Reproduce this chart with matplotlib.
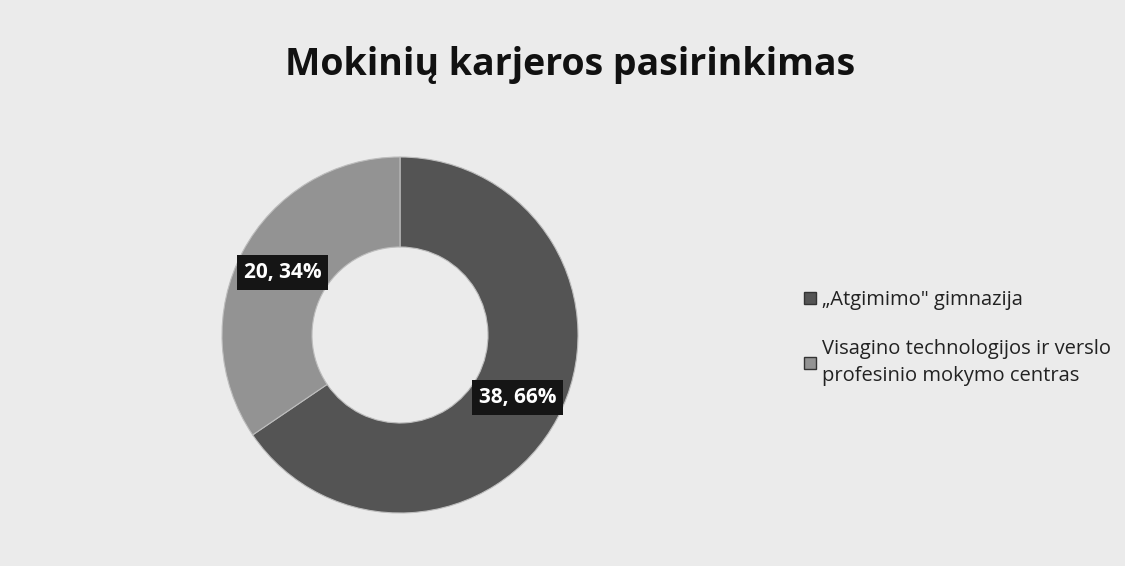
import matplotlib.pyplot as plt
from matplotlib.patches import Patch

plt.rcParams['font.family'] = ['Open Sans', 'DejaVu Sans']

# data
labels = ['„Atgimimo" gimnazija',
          'Visagino technologijos ir verslo\nprofesinio mokymo centras']
values = [38, 20]
colors = ['#545454', '#939393']
title = 'Mokinių karjeros pasirinkimas'

W, H = 1125, 566
fig = plt.figure(figsize=(W / 100, H / 100), dpi=100, facecolor='#ebebeb')
ax = fig.add_axes([0, 0, 1, 1])
ax.set_xlim(0, W)
ax.set_ylim(0, H)
ax.set_aspect('equal')
ax.axis('off')

total = sum(values)


def fmt(p):
    v = round(p * total / 100)
    return f'{v}, {p:.0f}%'


wedges, texts, autotexts = ax.pie(
    values, colors=colors, startangle=90, counterclock=False,
    center=(400, H - 335), radius=178, autopct=fmt, pctdistance=133 / 178,
    wedgeprops=dict(width=90, edgecolor='#bdbdbd', linewidth=0.8),
    textprops=dict(color='white', fontsize=15, fontweight='bold'))
for t in autotexts:
    t.set_bbox(dict(facecolor='#151515', edgecolor='none', pad=5))
ax.set_xlim(0, W)
ax.set_ylim(0, H)

fig.text(570 / W, 1 - 65 / H, title, ha='center', va='center',
         fontsize=27, fontweight='bold', color='#111111')

handles = [Patch(facecolor=c, edgecolor='#333333') for c in colors]
leg = fig.legend(handles, labels, loc='upper left', bbox_to_anchor=(786 / W, 1 - 272 / H),
                 frameon=False, fontsize=14.5, handlelength=0.6, handleheight=0.6,
                 handletextpad=0.3, labelspacing=1.45, labelcolor='#222222')
for t in leg.get_texts():
    t.set_linespacing(1.45)

fig.savefig('out.png', dpi=100, facecolor=fig.get_facecolor())
